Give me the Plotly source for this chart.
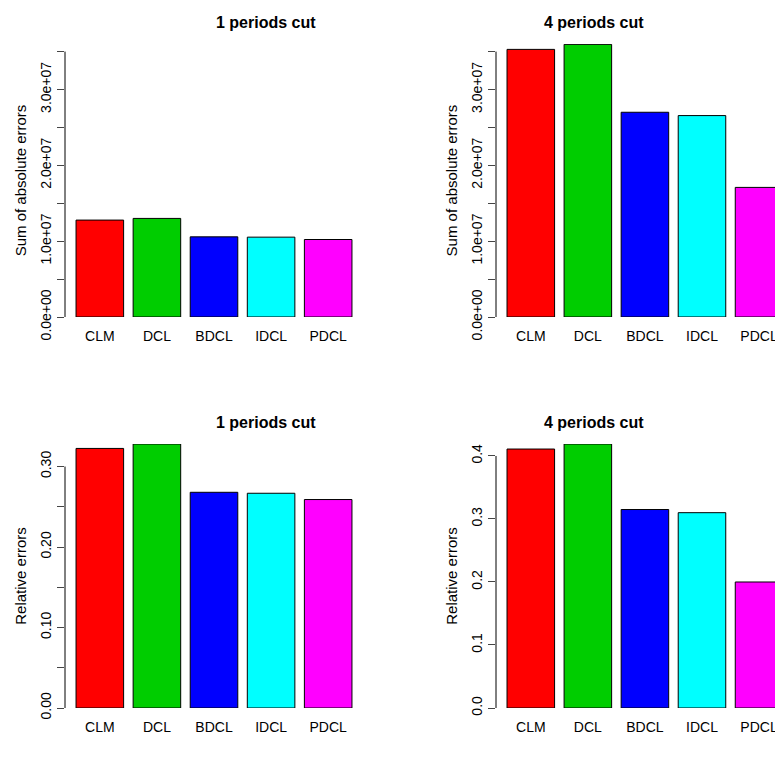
import plotly.graph_objects as go

methods = ["CLM", "DCL", "BDCL", "IDCL", "PDCL"]
colors = ["#FF0000", "#00CD00", "#0000FF", "#00FFFF", "#FF00FF"]

abs_err_1 = [1.278e7, 1.300e7, 1.057e7, 1.053e7, 1.022e7]
abs_err_4 = [3.529e7, 3.595e7, 2.700e7, 2.656e7, 1.709e7]
rel_err_1 = [0.3225, 0.328, 0.268, 0.2668, 0.259]
rel_err_4 = [0.411, 0.419, 0.315, 0.310, 0.200]

abs_ticks = [0, 0.5e7, 1e7, 1.5e7, 2e7, 2.5e7, 3e7, 3.5e7]
abs_labels = ["0.0e+00", "", "1.0e+07", "", "2.0e+07", "", "3.0e+07", ""]
rel1_ticks = [0, 0.05, 0.10, 0.15, 0.20, 0.25, 0.30]
rel1_labels = ["0.00", "", "0.10", "", "0.20", "", "0.30"]
rel4_ticks = [0, 0.1, 0.2, 0.3, 0.4]
rel4_labels = ["0.0", "0.1", "0.2", "0.3", "0.4"]

W, H = 783, 776
OFF = 8  # page body margin
FONT = "Liberation Sans, Arial, sans-serif"

panels = [
    # data, ticks, labels, ytitle, title, x px, y px, yrange top, xrange
    (abs_err_1, abs_ticks, abs_labels, "Sum of absolute errors", "1 periods cut",
     (65, 363), (44, 317), 3.6e7, [-0.61, 4.61]),
    (abs_err_4, abs_ticks, abs_labels, "Sum of absolute errors", "4 periods cut",
     (496, 783), (44, 317), 3.6e7, [-0.61, 4.42]),
    (rel_err_1, rel1_ticks, rel1_labels, "Relative errors", "1 periods cut",
     (65, 363), (444, 708), 0.328, [-0.61, 4.61]),
    (rel_err_4, rel4_ticks, rel4_labels, "Relative errors", "4 periods cut",
     (496, 783), (444, 708), 0.419, [-0.61, 4.42]),
]

fig = go.Figure()
for i, (vals, tv, tt, ytitle, title, xpx, ypx, ytop, xr) in enumerate(panels, start=1):
    xa = "x" if i == 1 else f"x{i}"
    ya = "y" if i == 1 else f"y{i}"
    fig.add_bar(x=methods, y=vals, marker=dict(color=colors, line=dict(color="black", width=1)),
                xaxis=xa, yaxis=ya, showlegend=False)
    xd = [(xpx[0] - OFF) / W, (xpx[1] - OFF) / W]
    yd = [1 - (ypx[1] - OFF) / H, 1 - (ypx[0] - OFF) / H]
    sfx = "" if i == 1 else str(i)
    fig.update_layout(**{
        f"xaxis{sfx}": dict(domain=xd, anchor=ya, range=xr, showline=False, ticks="outside",
                            ticklen=6, tickcolor="white", automargin=False,
                            showgrid=False, tickfont=dict(size=14, color="black")),
        f"yaxis{sfx}": dict(domain=yd, anchor=xa, range=[0, ytop], showgrid=False,
                            zeroline=False, showline=False, ticks="outside", ticklen=7,
                            tickvals=tv, ticktext=tt, tickangle=-90, automargin=False,
                            tickfont=dict(size=14, color="black"),
                            title=dict(text=ytitle, font=dict(size=15, color="black"), standoff=8)),
    })
    # y axis line spanning first to last tick, R-style
    fig.add_shape(type="line", xref=f"{xa} domain", yref=ya, x0=0, x1=0, y0=tv[0], y1=tv[-1],
                  line=dict(color="black", width=1))
    cx = (65 + 363) / 2 if xpx[0] < 300 else (496 + 795) / 2
    fig.add_annotation(text=f"<b>{title}</b>", xref="paper", yref="paper",
                       x=(cx - OFF) / W, y=1 - (ypx[0] - 22 - OFF) / H, showarrow=False,
                       font=dict(size=16, color="black"), yanchor="middle")

fig.update_layout(width=W, height=H, margin=dict(l=0, r=0, t=0, b=0),
                  paper_bgcolor="white", plot_bgcolor="white", bargap=0.1667,
                  font=dict(family=FONT, color="black"))
fig.write_html("out.html")
